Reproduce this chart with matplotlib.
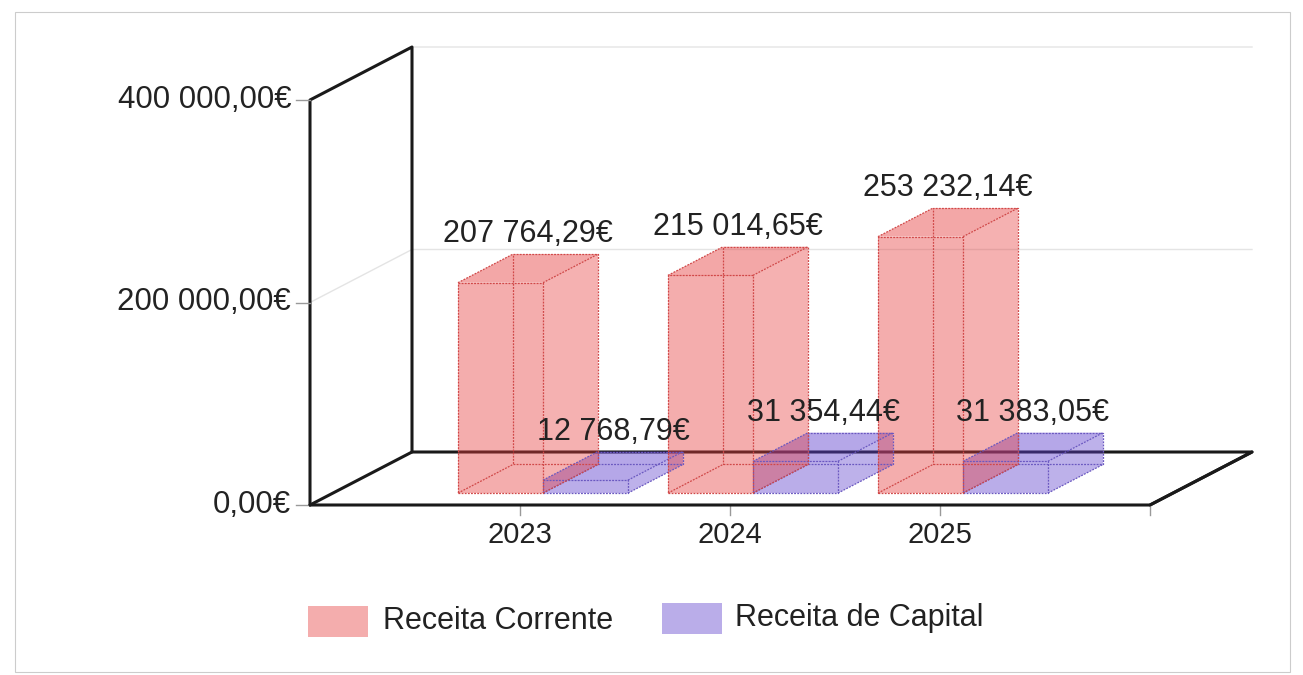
import numpy as np
import matplotlib
matplotlib.use("Agg")
import matplotlib.pyplot as plt
from matplotlib.patches import Polygon, Rectangle

# # data
years = ["2023", "2024", "2025"]
receita_corrente = [207764.29, 215014.65, 253232.14]
receita_capital = [12768.79, 31354.44, 31383.05]
series_names = ["Receita Corrente", "Receita de Capital"]
y_ticks = [0, 200000, 400000]


def euro(v):
    # portuguese style: space thousands, comma decimals
    s = "{0:,.2f}".format(v).replace(",", " ").replace(".", ",")
    return s + "€"


plt.rcParams['font.family'] = ['Liberation Sans', 'DejaVu Sans']

# # layout (pixels of a 1303x675 canvas)
W, H = 1303, 675
x0_px, unit_px = 310, 210          # x=0 and one category unit
y0_px, val_px = 505, 405 / 400000.  # value 0 and pixels per euro
DX = 102 / unit_px                  # depth offset of the back wall (x units)
DY = 53 / val_px                    # depth offset of the back wall (value units)
d1, d2 = 0.225, 0.765               # depth range of the bars
bar_w = 85 / unit_px
n_slots = 4
txt_col = '#222222'

fig = plt.figure(figsize=(W / 100., H / 100.), dpi=100)
ax = fig.add_axes([0, 0, 1, 1])
ax.set_xlim(-x0_px / unit_px, (W - x0_px) / unit_px)
ax.set_ylim(-(H - y0_px) / val_px, y0_px / val_px)
ax.axis('off')


def P(x, y, d):
    return (x + d * DX, y + d * DY)


def line(pts, **kw):
    xs, ys = zip(*pts)
    ax.plot(xs, ys, **kw)


# outer frame
fig.patches.append(Rectangle((15 / W, 3 / H), 1275 / W, 660 / H, transform=fig.transFigure,
                             fill=False, edgecolor='#cccccc', lw=0.8))

# grid lines on wall
for v in y_ticks[1:]:
    line([P(0, v, 0), P(0, v, 1), P(n_slots, v, 1)], color='#e4e4e4', lw=1, zorder=1)

# walls / floor (back parts)
k = dict(color='#1a1a1a', lw=2.2, solid_capstyle='round', zorder=2)
line([P(0, 0, 0), P(0, 400000, 0), P(0, 400000, 1), P(0, 0, 1)], **k)
line([P(0, 0, 0), P(0, 0, 1), P(n_slots, 0, 1), P(n_slots, 0, 0)], **k)

# y ticks + labels
for v in y_ticks:
    line([(-14 / unit_px, v), (0, v)], color='#999999', lw=1, zorder=2)
    ax.text(-19 / unit_px, v, euro(v), ha='right', va='center', fontsize=22.5, color=txt_col)

# x ticks + labels
for i in range(1, n_slots + 1):
    line([(i, 0), (i, -10 / val_px)], color='#999999', lw=1, zorder=2)
for i, yr in enumerate(years):
    ax.text(i + 1, -16 / val_px, yr, ha='center', va='top', fontsize=21, color=txt_col)

# # bars
red_face = (0.90, 0.24, 0.24)
red_edge = '#d04848'
blue_face = (0.36, 0.24, 0.80)
blue_edge = '#6a58c0'


def box(x, w, h, face, edge):
    fr = [P(x, 0, d1), P(x + w, 0, d1), P(x + w, h, d1), P(x, h, d1)]
    bk = [P(x, 0, d2), P(x + w, 0, d2), P(x + w, h, d2), P(x, h, d2)]
    right = [fr[1], bk[1], bk[2], fr[2]]
    top = [fr[3], fr[2], bk[2], bk[3]]
    for poly, a in [(fr, 0.42), (right, 0.40), (top, 0.45)]:
        ax.add_patch(Polygon(poly, closed=True, facecolor=face, alpha=a, edgecolor='none', zorder=3))
    ek = dict(color=edge, lw=0.9, ls=(0, (1.5, 1)), zorder=4)
    line(fr + [fr[0]], **ek)
    line(bk + [bk[0]], **ek)
    for a_, b_ in zip(fr, bk):
        line([a_, b_], **ek)


for i in range(len(years)):
    xc = i + 1
    box(xc, bar_w, receita_capital[i], blue_face, blue_edge)
    box(xc - bar_w, bar_w, receita_corrente[i], red_face, red_edge)

# value labels, centred on the projected bar
for i in range(len(years)):
    xc = i + 1
    for x, v in [(xc - bar_w, receita_corrente[i]), (xc, receita_capital[i])]:
        cx = x + bar_w / 2 + (d1 + d2) / 2 * DX
        cy = v + d2 * DY
        ax.text(cx, cy + 5 / val_px, euro(v), ha='center', va='bottom', fontsize=22,
                color=txt_col, zorder=6)

# front floor edges
line([P(0, 0, 0), P(n_slots, 0, 0), P(n_slots, 0, 1)], **dict(k, zorder=5))

# # legend
leg = [(series_names[0], red_face, 308, 606, 383), (series_names[1], blue_face, 662, 603, 735)]
for name, col, lx, ly, tx in leg:
    fig.patches.append(Rectangle((lx / W, 1 - (ly + 31) / H), 60 / W, 31 / H, transform=fig.transFigure,
                                 facecolor=col, alpha=0.42, edgecolor='none'))
    fig.text(tx / W, 1 - (ly + 15) / H, name, ha='left', va='center', fontsize=22, color=txt_col)

fig.savefig("out.png", dpi=100)
